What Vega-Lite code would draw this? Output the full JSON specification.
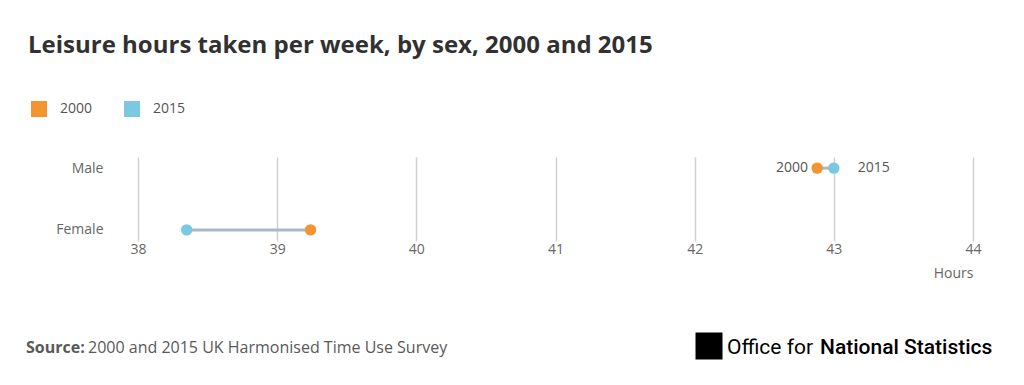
{
  "$schema": "https://vega.github.io/schema/vega-lite/v6.json",
  "width": 835,
  "height": 84,
  "autosize": {"type": "none"},
  "padding": {"left": 138, "top": 157, "right": 51, "bottom": 144},
  "background": "white",
  "config": {
    "font": "Open Sans",
    "view": {"stroke": null}
  },
  "title": {
    "text": "Leisure hours taken per week, by sex, 2000 and 2015",
    "anchor": "start",
    "frame": "group",
    "fontSize": 24,
    "fontWeight": "bold",
    "color": "#323132",
    "dx": -110,
    "offset": 42
  },
  "data": {
    "values": [
      {"sex": "Male", "year": "2000", "hours": 42.88},
      {"sex": "Male", "year": "2015", "hours": 43.0},
      {"sex": "Female", "year": "2000", "hours": 39.24},
      {"sex": "Female", "year": "2015", "hours": 38.35}
    ]
  },
  "encoding": {
    "x": {
      "field": "hours",
      "type": "quantitative",
      "scale": {"domain": [38, 44], "nice": false, "zero": false},
      "axis": {
        "values": [38, 39, 40, 41, 42, 43, 44],
        "title": "Hours",
        "titleAnchor": "end",
        "titleAlign": "right",
        "titleFontWeight": "normal",
        "titleFontSize": 14,
        "titleColor": "#666666",
        "titlePadding": 10,
        "domain": false,
        "ticks": false,
        "labelFlush": false,
        "labelPadding": 1,
        "labelFontSize": 14,
        "labelColor": "#666666",
        "grid": true,
        "gridColor": "#d0d0d0",
        "gridWidth": 1.5
      }
    },
    "y": {
      "field": "sex",
      "type": "nominal",
      "sort": ["Male", "Female"],
      "scale": {"type": "point", "padding": 0.18},
      "axis": {
        "title": null,
        "domain": false,
        "ticks": false,
        "grid": false,
        "labelPadding": 35,
        "labelFontSize": 14,
        "labelColor": "#666666"
      }
    }
  },
  "layer": [
    {
      "mark": {"type": "line", "strokeWidth": 3, "color": "#a9b7c9"},
      "encoding": {"detail": {"field": "sex"}}
    },
    {
      "mark": {"type": "circle", "opacity": 1, "size": 130},
      "encoding": {
        "color": {
          "field": "year",
          "type": "nominal",
          "scale": {"domain": ["2000", "2015"], "range": ["#f39431", "#7bc8e2"]},
          "legend": {
            "title": null,
            "orient": "none",
            "direction": "horizontal",
            "legendX": -108,
            "legendY": -57,
            "symbolType": "square",
            "symbolSize": 256,
            "symbolOpacity": 1,
            "labelFontSize": 14,
            "labelColor": "#555555",
            "labelOffset": 12,
            "columnPadding": 30
          }
        }
      }
    },
    {
      "transform": [{"filter": "datum.sex === 'Male' && datum.year === '2000'"}],
      "mark": {"type": "text", "align": "right", "dx": -9, "fontSize": 14, "color": "#555555"},
      "encoding": {"text": {"field": "year"}}
    },
    {
      "transform": [{"filter": "datum.sex === 'Male' && datum.year === '2015'"}],
      "mark": {"type": "text", "align": "left", "dx": 24, "fontSize": 14, "color": "#555555"},
      "encoding": {"text": {"field": "year"}}
    },
    {
      "data": {"values": [{"t": "Source:"}]},
      "mark": {"type": "text", "align": "left", "baseline": "alphabetic", "fontSize": 16, "fontWeight": "bold", "color": "#595959"},
      "encoding": {"text": {"field": "t"}, "x": {"value": -112}, "y": {"value": 196}}
    },
    {
      "data": {"values": [{"t": "2000 and 2015 UK Harmonised Time Use Survey"}]},
      "mark": {"type": "text", "align": "left", "baseline": "alphabetic", "fontSize": 16, "color": "#595959"},
      "encoding": {"text": {"field": "t"}, "x": {"value": -50}, "y": {"value": 196}}
    },
    {
      "data": {"values": [{"t": "logo"}]},
      "mark": {"type": "square", "filled": true, "size": 729, "color": "#000000", "opacity": 1},
      "encoding": {"x": {"value": 571}, "y": {"value": 189}}
    },
    {
      "data": {"values": [{"t": "Office for"}]},
      "mark": {"type": "text", "align": "left", "baseline": "alphabetic", "fontSize": 21, "font": "Roboto", "color": "#000000"},
      "encoding": {"text": {"field": "t"}, "x": {"value": 589}, "y": {"value": 197}}
    },
    {
      "data": {"values": [{"t": "National Statistics"}]},
      "mark": {"type": "text", "align": "left", "baseline": "alphabetic", "fontSize": 21, "font": "Roboto", "fontWeight": 500, "color": "#000000"},
      "encoding": {"text": {"field": "t"}, "x": {"value": 682}, "y": {"value": 197}}
    }
  ]
}
